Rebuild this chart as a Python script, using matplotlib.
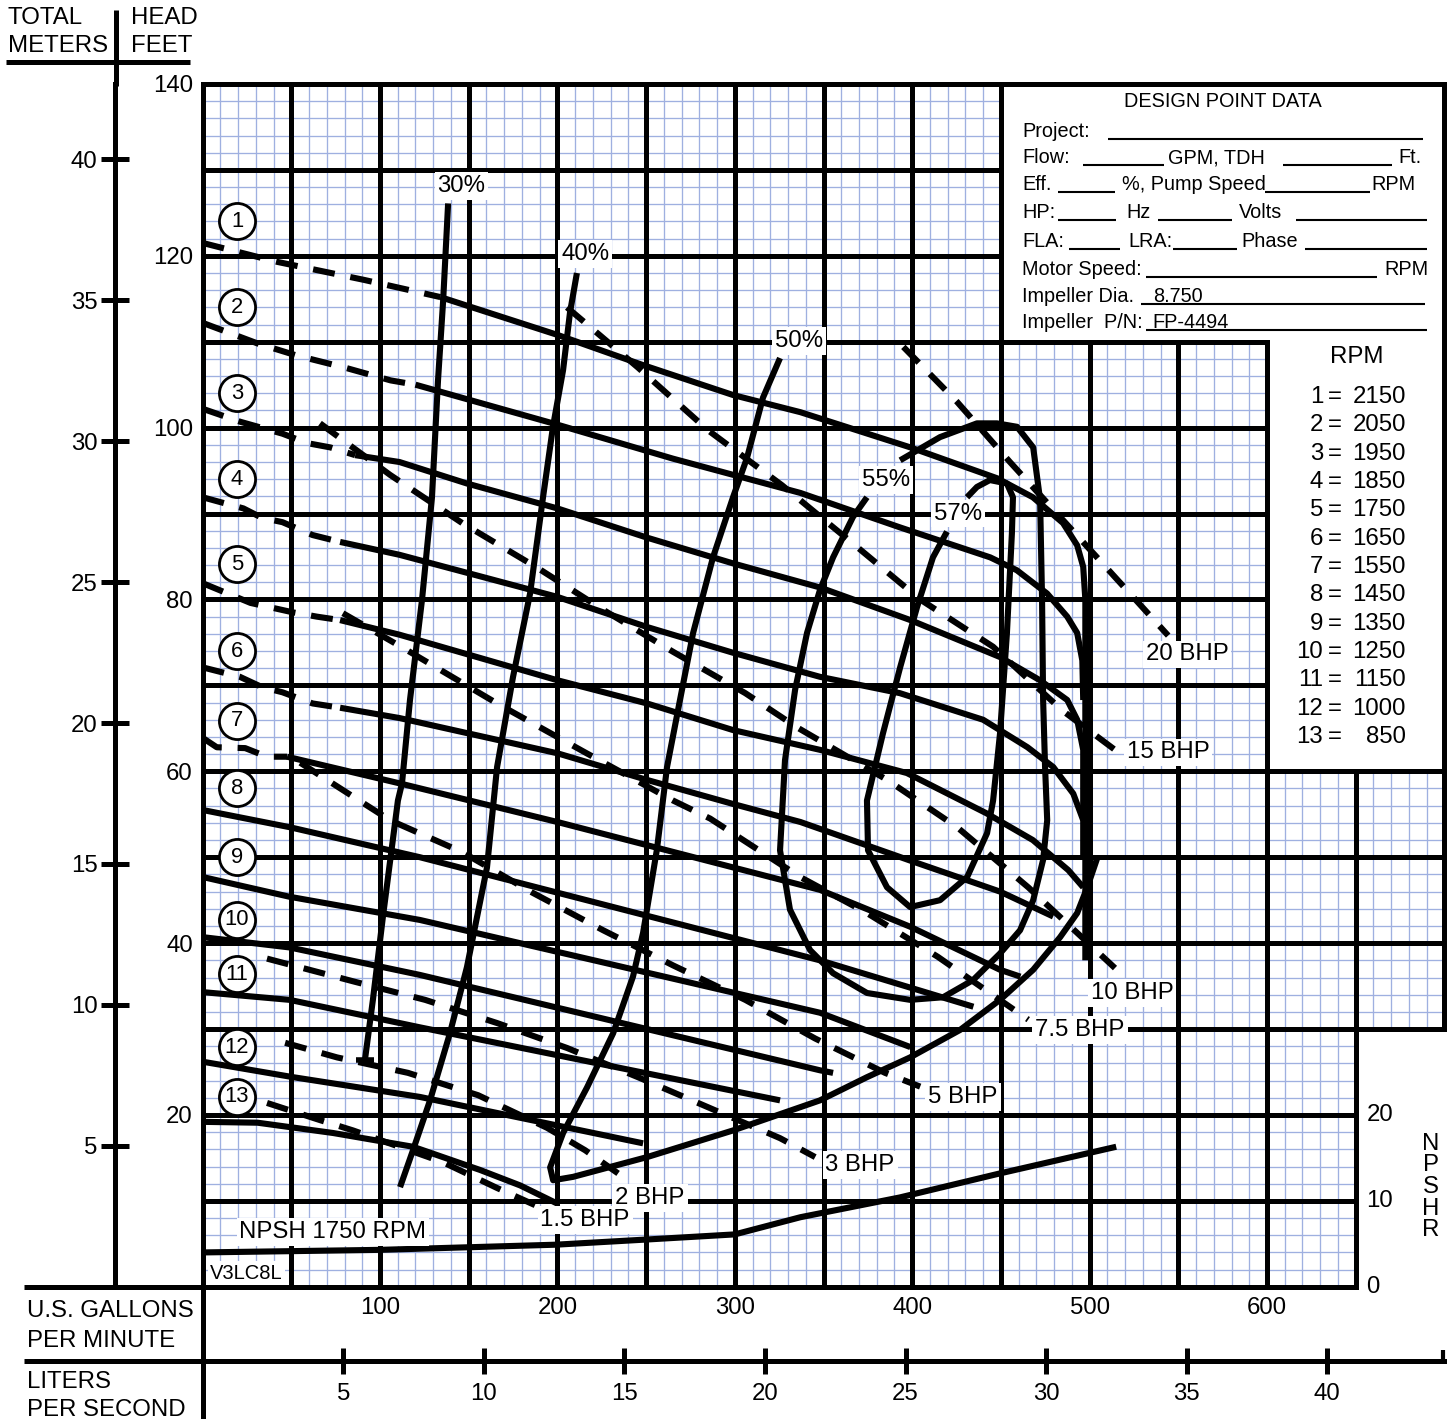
import matplotlib
matplotlib.use("Agg")
import matplotlib.pyplot as plt
from matplotlib.patches import Polygon
from matplotlib.lines import Line2D
import numpy as np

plt.rcParams['font.family'] = ['Liberation Sans', 'DejaVu Sans']

# ---------------- data (flow = US GPM, head = feet) ----------------
rpm_numbers = ['1', '2', '3', '4', '5', '6', '7', '8', '9', '10', '11', '12', '13']
rpm_values = ['2150', '2050', '1950', '1850', '1750', '1650', '1550', '1450', '1350',
              '1250', '1150', '1000', '850']
rpm_circle_head = [124, 114, 104, 94, 84.1, 74, 65.9, 58, 50, 42.7, 36.4, 27.9, 22.1]

# head curves, dashed (shut-off) part and solid part
h1_dash = [(0, 121.5), (42, 119.3), (91, 117.2), (134, 115.2)]
h1_solid = [(134, 115.2), (200, 110.8), (248, 107.3), (299, 103.8), (337, 101.8), (399, 97.7),
            (448, 94.1), (468, 91.9), (485, 88.9), (493, 86.3), (496.4, 83.8), (497.6, 80), (497.6, 38)]
h2_dash = [(0, 112.2), (31, 109.8), (53, 108.4), (80, 107), (106, 105.5), (120, 105)]
h2_solid = [(120, 105), (197.5, 100.5), (265, 96.4), (337, 92.4), (393, 88.4), (444, 84.9),
            (459, 83.4), (476, 80.7), (487.4, 78), (493, 76.1), (495.9, 72.9), (496.4, 68.3)]
h3_dash = [(0, 102.2), (21, 100.7), (45, 99.3), (59, 98.2), (72, 97.7), (86, 96.8)]
h3_solid = [(86, 96.8), (111, 96), (149, 93.5), (200, 90.6), (250.5, 87.2), (299, 84.2), (348, 81.4),
            (399, 77.6), (449.5, 73.3), (472, 70.6), (487.4, 68.3), (493, 66), (496.4, 62.5), (496.4, 54.3)]
h4_dash = [(0, 91.9), (23, 90.6), (33.5, 89.5), (45, 89), (62, 87.5), (77.5, 86.7)]
h4_solid = [(77.5, 86.7), (111, 85.2), (200, 80.3), (250.5, 76.8), (299, 73.8), (348, 71), (393, 69.1),
            (440, 66), (465, 62.8), (479.5, 60.5), (490.8, 57.4), (496.4, 54.3), (496.4, 50)]
h5_dash = [(0, 81.9), (27, 79.6), (51, 78.5), (64.5, 78), (77.5, 77.6)]
h5_solid = [(77.5, 77.6), (111, 75.9), (200, 70.6), (250.5, 67.9), (299, 64.8), (348, 62.5), (397, 59.8),
            (442, 55.1), (468, 52), (488, 48.5), (496.4, 46.5)]
h6_dash = [(0, 72.1), (21, 71), (33.5, 69.8), (45, 69.2), (62, 67.9), (77.5, 67.4)]
h6_solid = [(77.5, 67.4), (111, 66.2), (200, 62.1), (250.5, 59), (299, 56.2), (337, 54.1), (399, 49.6),
            (449.5, 46), (479.5, 43.1)]
h7_dash = [(0, 63.9), (8, 62.8), (24, 62.7), (36.3, 61.7), (47.6, 61.7)]
h7_solid = [(47.6, 61.7), (111, 58.6), (200, 54.1), (348, 46.2), (399, 41.9), (449.5, 36.9), (461, 36.1)]
h8_solid = [(0, 55.5), (49, 53.5), (122.5, 50), (348, 38), (434.5, 32.6)]
h9_solid = [(0, 47.7), (49, 45.4), (122.5, 42.7), (348, 31.9), (399, 27.9)]
h10_solid = [(0, 40.7), (49, 39.5), (122.5, 36.3), (348, 25.2), (355.4, 24.9)]
h11_solid = [(0, 34.3), (49, 33.4), (122.5, 30.2), (325.5, 21.7)]
h12_solid = [(0, 26.2), (51, 24.4), (122.5, 22.1), (248.3, 16.7)]
h13_solid = [(0, 19.2), (31, 19.1), (73.6, 17.9), (118.6, 16.3), (156.4, 13.6), (179, 11.8), (199.8, 9.7)]

# brake horsepower lines
bhp_20 = [(395, 109.4), (425.3, 103), (455.1, 96), (504.2, 84.9), (544.3, 75.8)]
bhp_15 = [(205.4, 114), (245.4, 107), (284.9, 99.7), (326.6, 93.3), (366.1, 86.6), (404.5, 80),
          (445.6, 74.5), (484.5, 67.1), (514.3, 62.5)]
bhp_10 = [(66.2, 100.5), (105.7, 94.5), (146.3, 88.9), (188.6, 83.7), (225.8, 78.8), (265.3, 73.9),
          (305.9, 69.1), (335.2, 65.1), (385.9, 59), (425.3, 53.5), (465.4, 46.5), (514.3, 37.1)]
bhp_7_5 = [(79.1, 78.4), (115.2, 74.1), (166, 67.9), (215.6, 62.2), (265.2, 56.6), (286.1, 54.5),
           (336.8, 47.7), (374.5, 43.5), (414.5, 38.4), (465.4, 31.1)]
bhp_5 = [(55, 61), (105.7, 54.3), (146.3, 50.6), (185.7, 45.9), (225.8, 41.5), (265.3, 37.4),
         (305.9, 33.4), (345.3, 28.9), (384.7, 24.9), (404.5, 23.3)]
bhp_3 = [(36.3, 38.2), (85.9, 35.5), (125.4, 33.4), (166, 30.7), (205.4, 27.8), (245.4, 24.4),
         (284.9, 20.9), (325.5, 17.3), (345.3, 15.1)]
bhp_2 = [(46.5, 28.4), (75.8, 26.7), (115.8, 24.9), (155.3, 22.3), (194.2, 18.5), (215.6, 15.9), (234.2, 13.2)]
bhp_1_5 = [(36.3, 21.4), (66.2, 19.4), (84.8, 18.2), (135.5, 14.5), (166, 11.5), (195, 8.8)]

# efficiency lines
eff_30 = [(138.4, 126.1), (135.6, 114.8), (132.7, 105.5), (129.3, 91.9), (123.7, 80), (116.9, 68.3),
          (112.4, 58.6), (110.1, 56.6), (101.6, 43), (96, 33.4), (91.5, 26.4)]
eff_40 = [(211, 118), (207.1, 113.4), (203.2, 106.7), (197.5, 100.1), (191.9, 91.9), (184.6, 80.7),
          (175, 71), (166, 60.5), (160.3, 48.8), (149, 37.2), (139.4, 29.5), (128.2, 21.7),
          (118.6, 15.9), (111.3, 11.6)]
eff_50 = [(325.5, 108.1), (315.9, 103.5), (306.9, 96.5), (299, 91.9), (287.7, 84.9), (276.5, 76.1),
          (269.1, 68.3), (261.8, 60.5), (256.1, 50.9), (248.3, 41.2), (242.6, 36.1), (231.4, 29.5),
          (216.7, 23.2), (203.2, 17.9), (195.9, 13.9), (197.6, 12.4), (208.9, 12.8), (250.6, 15.1),
          (299, 18.2), (348, 21.7), (374.5, 24.4), (398.8, 26.7), (427, 29.9), (449.5, 33.4),
          (468.2, 36.9), (483.4, 40.7), (493, 43.5), (498.7, 46.5), (504.3, 49.9)]
eff_55 = [(374.5, 91.9), (366.6, 89.6), (355.4, 84.9), (348, 81.1), (340.7, 76.1), (334, 69.5),
          (328.3, 61.3), (325.5, 50.8), (331.1, 43.9), (342.4, 39.2), (355.4, 36.5), (374.5, 34.2),
          (398.8, 33.4), (417.4, 33.7), (434.3, 35.7), (449.5, 38.8), (460.8, 41.5), (468.2, 45),
          (473.8, 49.7), (476.1, 54.3), (474.9, 60.5), (473.8, 68.3), (473.2, 80), (472.1, 91.6),
          (468.2, 97.7), (459.1, 100.1), (447.8, 100.5), (436.5, 100.5), (415.7, 98.9), (393.2, 96.2)]
eff_57 = [(419.6, 87.9), (411.7, 84.9), (402.7, 79.1), (393.2, 72.1), (383.5, 64.4), (374.5, 56.6),
          (375.1, 50.8), (385.8, 46.5), (398.8, 44.2), (415.7, 45), (431, 47.7), (442.2, 52.8),
          (445.6, 56.6), (449.5, 64.4), (453.4, 76.1), (456.2, 87.7), (456.8, 91.9), (453.4, 93.5),
          (443.8, 93.9), (436.5, 93.1), (430.9, 91.9)]

# NPSH required at 1750 rpm (feet)
npsh_1750 = [(0, 4.0), (100, 4.3), (199, 4.9), (250, 5.5), (300, 6.1), (337, 8.1), (393, 10.4),
             (449.5, 13.2), (515, 16.3)]

head_ticks = [20, 40, 60, 80, 100, 120, 140]
gpm_ticks = [100, 200, 300, 400, 500, 600]
meter_ticks = [5, 10, 15, 20, 25, 30, 35, 40]
lps_ticks = [5, 10, 15, 20, 25, 30, 35, 40]
npshr_ticks = [0, 10, 20]

# ---------------- figure layout (pixels of a 1452 x 1419 sheet) ----------------
W, H = 1452, 1419
X0, X1 = 202.6, 1444.4      # 0 and 700 GPM
Y0, Y1 = 1286.8, 84.0       # 0 and 140 ft
BLUE = '#9FB0E0'
LW_GRID = 3.6
LW_CURVE = 4.4
FS = 17.3


def fx(px):
    return px / W


def fy(py):
    return 1 - py / H


fig = plt.figure(figsize=(W / 100, H / 100), dpi=100)
ax = fig.add_axes([fx(X0), fy(Y0), (X1 - X0) / W, (Y0 - Y1) / H])
ax.set_xlim(0, 700)
ax.set_ylim(0, 140)
for s in ax.spines.values():
    s.set_visible(False)

# grid area (white boxes and bottom-right notch are left out)
outline = [(0, 0), (650, 0), (650, 30), (700, 30), (700, 60), (600, 60), (600, 110),
           (450, 110), (450, 140), (0, 140)]
region = Polygon(outline, closed=True, transform=ax.transData, facecolor='none', edgecolor='none')
ax.add_patch(region)

for coll in [ax.vlines(np.arange(0, 701, 10), 0, 140, colors=BLUE, linewidth=0.95, zorder=1),
             ax.hlines(np.arange(0, 141, 2), 0, 700, colors=BLUE, linewidth=0.95, zorder=1),
             ax.vlines(np.arange(0, 701, 50), 0, 140, colors='k', linewidth=LW_GRID, zorder=2),
             ax.hlines(np.arange(0, 141, 10), 0, 700, colors='k', linewidth=LW_GRID, zorder=2)]:
    coll.set_clip_path(region)

# frame and box borders
ax.plot([0, 650, 650, 700, 700, 0, 0], [0, 0, 30, 30, 140, 140, 0], color='k', lw=LW_GRID,
        clip_on=False, solid_joinstyle='miter', zorder=3)
ax.plot([450, 450, 600, 600, 700], [140, 110, 110, 60, 60], color='k', lw=LW_GRID,
        clip_on=False, solid_joinstyle='miter', zorder=3)

# head feet axis and gpm axis (labels only)
ax.set_yticks(head_ticks)
ax.set_xticks(gpm_ticks)
ax.tick_params(axis='y', length=0, pad=7, labelsize=FS)
ax.tick_params(axis='x', length=0, pad=7, labelsize=FS)

# meters axis
M_LOC = (115.5 - X0) / (X1 - X0)
axm = ax.secondary_yaxis(M_LOC, functions=(lambda h: h * 0.3048, lambda m: m / 0.3048))
axm.set_yticks(meter_ticks)
axm.tick_params(direction='inout', length=20, width=LW_GRID, labelsize=FS, pad=3)
axm.spines['left'].set_linewidth(LW_GRID)

# liters per second axis
LS_LOC = (Y0 - 1361) / (Y0 - Y1)
axl = ax.secondary_xaxis(LS_LOC, functions=(lambda q: q * 0.0630902, lambda l: l / 0.0630902))
axl.set_xticks(lps_ticks)
axl.tick_params(direction='inout', length=19, width=LW_GRID, labelsize=FS, pad=6)
axl.spines['bottom'].set_linewidth(LW_GRID)


# extra ruling around the axes
def fline(xs, ys, lw=LW_GRID):
    fig.add_artist(Line2D([fx(v) for v in xs], [fy(v) for v in ys], color='k', lw=lw,
                          solid_capstyle='butt'))


fline([115.5, 115.5], [10, 86])
fline([6, 190], [62, 62])
fline([24, X0], [1287, 1287])
fline([24, X0], [1361, 1361])
fline([X0, X0], [1285, 1419])
fline([1443, 1443], [1350, 1363], lw=3)

fig.text(fx(8), fy(24), 'TOTAL', fontsize=FS, va='baseline')
fig.text(fx(8), fy(52), 'METERS', fontsize=FS, va='baseline')
fig.text(fx(131), fy(24), 'HEAD', fontsize=FS, va='baseline')
fig.text(fx(131), fy(52), 'FEET', fontsize=FS, va='baseline')
fig.text(fx(27), fy(1317), 'U.S. GALLONS', fontsize=FS, va='baseline')
fig.text(fx(27), fy(1347), 'PER MINUTE', fontsize=FS, va='baseline')
fig.text(fx(27), fy(1388), 'LITERS', fontsize=FS, va='baseline')
fig.text(fx(27), fy(1416), 'PER SECOND', fontsize=FS, va='baseline')

# NPSHR scale on the right
for v in npshr_ticks:
    ax.text(656, v, str(v), fontsize=FS, ha='left', va='center')
ax.text(692.5, 11.6, 'N\nP\nS\nH\nR', fontsize=FS, ha='center', va='center', linespacing=0.98)


# ---------------- curves ----------------
def draw(pts, dashed=False, z=5):
    q, h = zip(*pts)
    ax.plot(q, h, color='k', lw=LW_CURVE, ls=(0, (3.6, 2.6)) if dashed else '-',
            solid_capstyle='butt', dash_capstyle='butt', solid_joinstyle='round', zorder=z)


for pts in [h1_dash, h2_dash, h3_dash, h4_dash, h5_dash, h6_dash, h7_dash,
            bhp_20, bhp_15, bhp_10, bhp_7_5, bhp_5, bhp_3, bhp_2, bhp_1_5]:
    draw(pts, dashed=True)
for pts in [h1_solid, h2_solid, h3_solid, h4_solid, h5_solid, h6_solid, h7_solid, h8_solid,
            h9_solid, h10_solid, h11_solid, h12_solid, h13_solid,
            eff_30, eff_40, eff_50, eff_55, eff_57, npsh_1750]:
    draw(pts)
ax.plot(eff_30[-1][0], eff_30[-1][1], marker='_', ms=13, mew=4, color='k', zorder=5)

# speed markers
for num, hh in zip(rpm_numbers, rpm_circle_head):
    ax.plot(19.4, hh, 'o', ms=26, mfc='white', mec='k', mew=2, zorder=8)
    ax.text(19.4, hh, num, fontsize=FS - 1.5, ha='center', va='center', zorder=9)

# curve labels (white backing like the original sheet)
box = dict(boxstyle='square,pad=0.12', fc='white', ec='none')
labels = [('30%', 146, 128.1), ('40%', 215.6, 120.2), ('50%', 336.2, 110.1), ('55%', 385.3, 93.9),
          ('57%', 425.9, 90), ('20 BHP', 554.9, 73.6), ('15 BHP', 544.2, 62.2), ('10 BHP', 523.9, 34.2),
          ('7.5 BHP', 494.6, 29.9), ('5 BHP', 428.6, 22.1), ('3 BHP', 370.6, 14.2), ('2 BHP', 252.2, 10.3),
          ('1.5 BHP', 215.6, 7.8), ('NPSH 1750 RPM', 73.5, 6.4)]
for s, q, h in labels:
    ax.text(q, h, s, fontsize=FS, ha='center', va='center', bbox=box, zorder=10)
ax.text(4.2, 1.6, 'V3LC8L', fontsize=14.5, ha='left', va='center', bbox=box, zorder=10)

# ---------------- design point data box ----------------
BFS = 14.3
fig.text(fx(1223), fy(107), 'DESIGN POINT DATA', fontsize=BFS, ha='center', va='baseline')
rows = [
    (137, [(1022, 'Project:')], [(1108, 1423)]),
    (163, [(1022, 'Flow:'), (1168, 'GPM, TDH'), (1398, 'Ft.')], [(1083, 1164), (1283, 1392)]),
    (190, [(1022, 'Eff.'), (1122, '%, Pump Speed'), (1371, 'RPM')], [(1058, 1115), (1265, 1370)]),
    (218, [(1022, 'HP:'), (1126, 'Hz'), (1239, 'Volts')], [(1058, 1116), (1158, 1232), (1296, 1427)]),
    (247, [(1022, 'FLA:'), (1128, 'LRA:'), (1241, 'Phase')], [(1069, 1120), (1173, 1237), (1305, 1427)]),
    (275, [(1022, 'Motor Speed:'), (1384, 'RPM')], [(1146, 1377)]),
    (302, [(1022, 'Impeller Dia.'), (1153, '8.750')], [(1141, 1425)]),
    (328, [(1022, 'Impeller  P/N:'), (1152, 'FP-4494')], [(1146, 1427)]),
]
for base, texts, lines in rows:
    for x, s in texts:
        fig.text(fx(x), fy(base), s, fontsize=BFS, ha='left', va='baseline')
    for a, b in lines:
        fline([a, b], [base + 2, base + 2], lw=1.5)

# ---------------- rpm legend box ----------------
fig.text(fx(1357), fy(363), 'RPM', fontsize=FS, ha='center', va='baseline')
for i, (num, rpm) in enumerate(zip(rpm_numbers, rpm_values)):
    base = 403 + i * 28.33
    fig.text(fx(1323), fy(base), num, fontsize=FS, ha='right', va='baseline')
    fig.text(fx(1335), fy(base), '=', fontsize=FS, ha='center', va='baseline')
    fig.text(fx(1406), fy(base), rpm, fontsize=FS, ha='right', va='baseline')

fig.savefig('out.png', dpi=100)
